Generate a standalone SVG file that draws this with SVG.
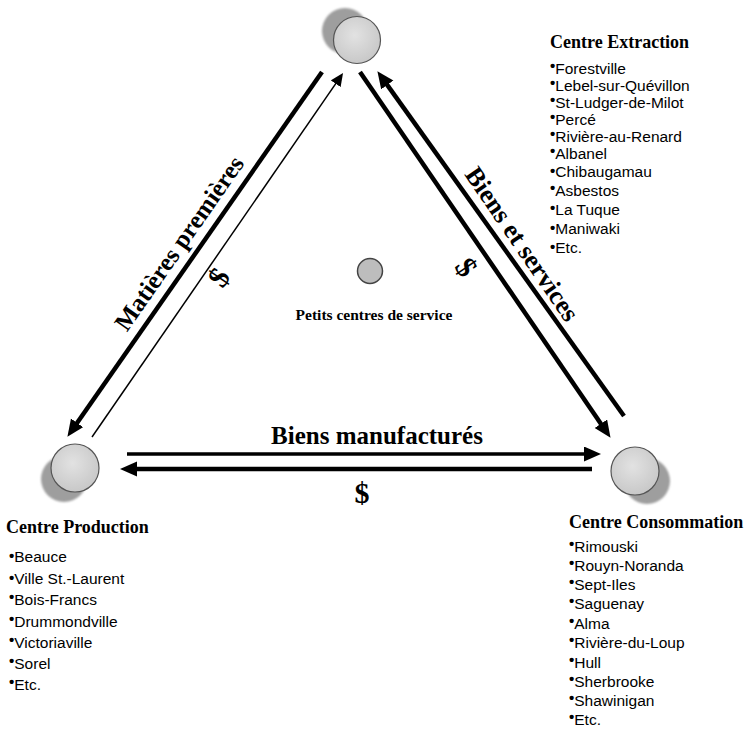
<svg xmlns="http://www.w3.org/2000/svg" width="754" height="730" viewBox="0 0 754 730">
<style>
.hd{font-family:"Liberation Serif","Times New Roman",serif;font-weight:bold;fill:#000}
.li{font-family:"Liberation Sans",Arial,sans-serif;font-size:15.5px;fill:#000}
.b{font-size:15px;font-weight:bold}
.thick{stroke:#000;stroke-width:4.5;fill:none}
.thin{stroke:#000;stroke-width:1.5;fill:none}
.front{fill:url(#gf);stroke:#555;stroke-width:1.2}
.back{fill:#9e9e9e;filter:url(#bl)}
</style>
<defs>
<radialGradient id="gf" cx="0.45" cy="0.4" r="0.65">
<stop offset="0" stop-color="#e2e2e2"/>
<stop offset="1" stop-color="#c6c6c6"/>
</radialGradient>
<filter id="bl" x="-20%" y="-20%" width="140%" height="140%"><feGaussianBlur stdDeviation="1.2"/></filter>
<marker id="ah" markerUnits="userSpaceOnUse" markerWidth="18" markerHeight="16" refX="6" refY="7.5" orient="auto"><path d="M0,0 L17,7.5 L0,15 z" fill="#000"/></marker>
<marker id="ahs" markerUnits="userSpaceOnUse" markerWidth="14" markerHeight="12" refX="5" refY="6" orient="auto"><path d="M0,0 L13,6 L0,12 z" fill="#000"/></marker>
</defs>
<rect width="754" height="730" fill="#fff"/>

<g id="connectors">
<line class="thick" x1="322" y1="72" x2="73.7" y2="427.8" marker-end="url(#ah)"/>
<line class="thin" x1="92" y1="437" x2="338.5" y2="79.6" marker-end="url(#ahs)"/>
<line class="thick" x1="360" y1="72" x2="604.3" y2="428.7" marker-end="url(#ah)"/>
<line class="thick" x1="624" y1="416" x2="383.8" y2="80.1" marker-end="url(#ah)"/>
<line class="thick" style="stroke-width:3.5" x1="127" y1="454" x2="590" y2="454" marker-end="url(#ah)"/>
<line class="thick" x1="592" y1="469" x2="131" y2="469" marker-end="url(#ah)"/>
<text class="hd" font-size="25" text-anchor="middle" transform="translate(186,248) rotate(-55.1)">Matières premières</text>
<text class="hd" font-size="30" text-anchor="middle" transform="translate(227,283) rotate(-55.1)">$</text>
<text class="hd" font-size="26" text-anchor="middle" transform="translate(515,249) rotate(55.6)">Biens et services</text>
<text class="hd" font-size="30" text-anchor="middle" transform="translate(458,273) rotate(55.6)">$</text>
<text class="hd" font-size="25" text-anchor="middle" x="377" y="444">Biens manufacturés</text>
<text class="hd" font-size="30" text-anchor="middle" x="362" y="503">$</text>
</g>

<g id="node-extraction">
<circle class="back" cx="345" cy="31" r="23"/>
<circle class="front" cx="357" cy="40" r="23.5"/>
<text class="hd" font-size="18" x="550" y="48">Centre Extraction</text>
<g class="li">
<text x="550" y="74"><tspan class="b" dy="-3">•</tspan><tspan dy="3">Forestville</tspan></text>
<text x="550" y="91"><tspan class="b" dy="-3">•</tspan><tspan dy="3">Lebel-sur-Quévillon</tspan></text>
<text x="550" y="108"><tspan class="b" dy="-3">•</tspan><tspan dy="3">St-Ludger-de-Milot</tspan></text>
<text x="550" y="125"><tspan class="b" dy="-3">•</tspan><tspan dy="3">Percé</tspan></text>
<text x="550" y="142"><tspan class="b" dy="-3">•</tspan><tspan dy="3">Rivière-au-Renard</tspan></text>
<text x="550" y="159"><tspan class="b" dy="-3">•</tspan><tspan dy="3">Albanel</tspan></text>
<text x="550" y="177"><tspan class="b" dy="-1">•</tspan><tspan dy="1">Chibaugamau</tspan></text>
<text x="550" y="196"><tspan class="b" dy="-3">•</tspan><tspan dy="3">Asbestos</tspan></text>
<text x="550" y="215"><tspan class="b" dy="-2">•</tspan><tspan dy="2">La Tuque</tspan></text>
<text x="550" y="234"><tspan class="b" dy="-1">•</tspan><tspan dy="1">Maniwaki</tspan></text>
<text x="550" y="253"><tspan class="b" dy="-1">•</tspan><tspan dy="1">Etc.</tspan></text>
</g>
</g>

<g id="node-production">
<circle class="back" cx="64" cy="479" r="23"/>
<circle class="front" cx="75" cy="468" r="24"/>
<text class="hd" font-size="18" x="6" y="533">Centre Production</text>
<g class="li">
<text x="9" y="562"><tspan class="b" dy="-1">•</tspan><tspan dy="1">Beauce</tspan></text>
<text x="9" y="584"><tspan class="b" dy="-1">•</tspan><tspan dy="1">Ville St.-Laurent</tspan></text>
<text x="9" y="605"><tspan class="b" dy="-3">•</tspan><tspan dy="3">Bois-Francs</tspan></text>
<text x="9" y="627"><tspan class="b" dy="-3">•</tspan><tspan dy="3">Drummondville</tspan></text>
<text x="9" y="648"><tspan class="b" dy="-3">•</tspan><tspan dy="3">Victoriaville</tspan></text>
<text x="9" y="669"><tspan class="b" dy="-3">•</tspan><tspan dy="3">Sorel</tspan></text>
<text x="9" y="690"><tspan class="b" dy="-3">•</tspan><tspan dy="3">Etc.</tspan></text>
</g>
</g>

<g id="node-consommation">
<circle class="back" cx="647" cy="481" r="23"/>
<circle class="front" cx="635" cy="471" r="24"/>
<text class="hd" font-size="18" x="569" y="528">Centre Consommation</text>
<g class="li">
<text x="569" y="552"><tspan class="b" dy="-3">•</tspan><tspan dy="3">Rimouski</tspan></text>
<text x="569" y="571"><tspan class="b" dy="-3">•</tspan><tspan dy="3">Rouyn-Noranda</tspan></text>
<text x="569" y="590"><tspan class="b" dy="-3">•</tspan><tspan dy="3">Sept-Iles</tspan></text>
<text x="569" y="609"><tspan class="b" dy="-3">•</tspan><tspan dy="3">Saguenay</tspan></text>
<text x="569" y="629"><tspan class="b" dy="-3">•</tspan><tspan dy="3">Alma</tspan></text>
<text x="569" y="648"><tspan class="b" dy="-3">•</tspan><tspan dy="3">Rivière-du-Loup</tspan></text>
<text x="569" y="668"><tspan class="b" dy="-3">•</tspan><tspan dy="3">Hull</tspan></text>
<text x="569" y="687"><tspan class="b" dy="-3">•</tspan><tspan dy="3">Sherbrooke</tspan></text>
<text x="569" y="706"><tspan class="b" dy="-3">•</tspan><tspan dy="3">Shawinigan</tspan></text>
<text x="569" y="725"><tspan class="b" dy="-3">•</tspan><tspan dy="3">Etc.</tspan></text>
</g>
</g>

<g id="node-petits-centres">
<circle cx="370" cy="271" r="12.5" fill="#bdbdbd" stroke="#444" stroke-width="1.5"/>
<text class="hd" font-size="15.5" text-anchor="middle" x="374" y="320">Petits centres de service</text>
</g>
</svg>
